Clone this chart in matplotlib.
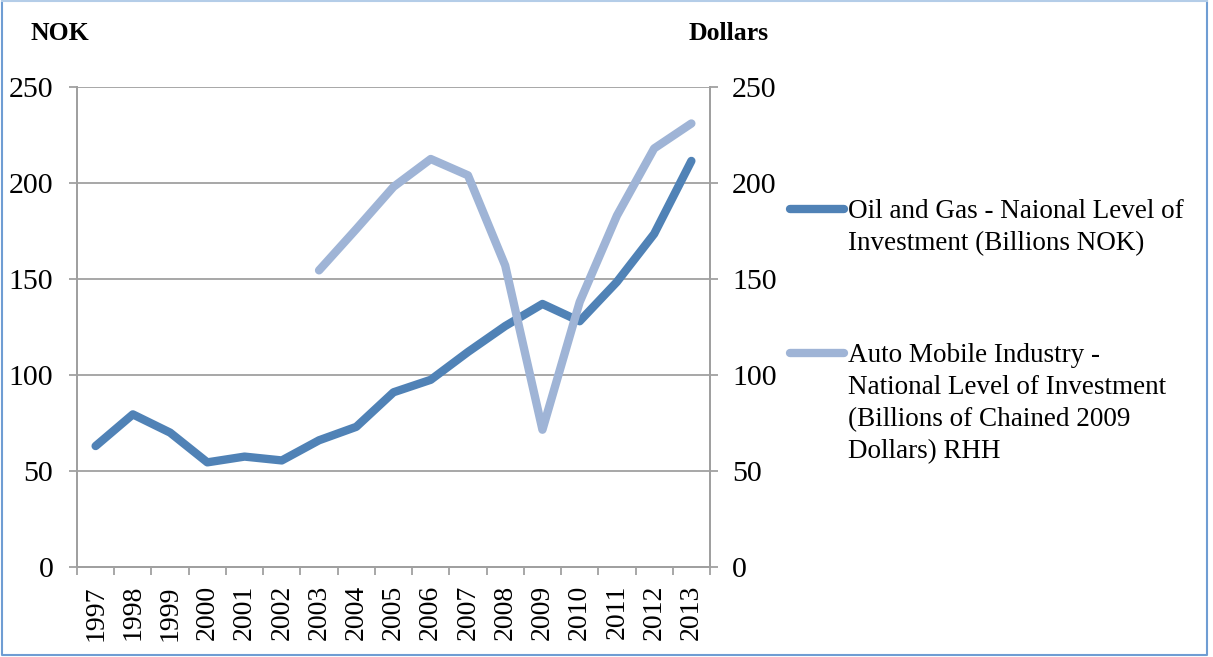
import matplotlib
matplotlib.use('Agg')
import matplotlib.pyplot as plt
from matplotlib.lines import Line2D
import numpy as np

plt.rcParams['font.family'] = ['Liberation Serif', 'DejaVu Serif']

years = [str(y) for y in range(1997, 2014)]

# Oil and gas, billions NOK (left axis)
oil_gas = [63, 79.5, 70, 54.5, 57.5, 55.5, 66, 73, 91, 97.5, 112, 125.5, 137, 128, 148.5, 173.5, 211.5]

# Auto industry, billions of chained 2009 dollars (right axis), from 2003 on
auto_years = years[6:]
auto = [154.5, 176, 198, 212.5, 204, 157, 71.5, 138, 183, 218, 231]

oil_label = 'Oil and Gas - Naional Level of\nInvestment (Billions NOK)'
auto_label = ('Auto Mobile Industry -\nNational Level of Investment\n'
              '(Billions of Chained 2009\nDollars) RHH')

dark = '#5082b6'
light = '#9fb4d6'
grey = '#a0a0a0'

W, H = 1213, 657
fig = plt.figure(figsize=(W / 100, H / 100), dpi=100)
ax = fig.add_axes([77 / W, 1 - 567 / H, 633 / W, 480 / H])
ax2 = ax.twinx()

x = np.arange(len(years))
xa = np.array([years.index(y) for y in auto_years])

l1, = ax.plot(x, oil_gas, color=dark, lw=6, solid_capstyle='round', zorder=3)
l2, = ax2.plot(xa, auto, color=light, lw=6, solid_capstyle='round', zorder=3)

for a in (ax, ax2):
    a.set_ylim(0, 250)
    a.set_yticks(np.arange(0, 251, 50))
    a.set_xlim(-0.5, len(years) - 0.5)
    for s in a.spines.values():
        s.set_color(grey)
        s.set_linewidth(1.3)
    a.spines['top'].set_visible(False)

ax.yaxis.grid(True, color=grey, lw=1.3)
ax.set_axisbelow(True)

# category boundaries carry the ticks, centres carry the labels
ax.set_xticks(np.arange(-0.5, len(years), 1.0))
ax.set_xticklabels([])
ax.set_xticks(x, minor=True)
ax.set_xticklabels(years, minor=True, rotation=90, fontsize=20)
ax.tick_params(axis='x', which='major', length=5.5, width=1.3, color=grey)
ax.tick_params(axis='x', which='minor', length=0, pad=13)
ax.tick_params(axis='y', length=6, width=1.3, color=grey, labelsize=21.5, pad=11)
ax2.tick_params(axis='y', length=6, width=1.3, color=grey, labelsize=21.5, pad=10)

fig.text(60 / W, 1 - 33 / H, 'NOK', fontsize=18.5, fontweight='bold',
         ha='center', va='center')
fig.text(729 / W, 1 - 33 / H, 'Dollars', fontsize=18.5, fontweight='bold',
         ha='center', va='center')

# legend: swatch sits beside the first line of each label
for line, label, ytop in ((l1, oil_label, 199), (l2, auto_label, 343)):
    fig.add_artist(Line2D([790 / W, 844 / W], [1 - (ytop + 10) / H] * 2,
                          color=line.get_color(), lw=6, solid_capstyle='round'))
    fig.text(848 / W, 1 - ytop / H, label, fontsize=19.5, ha='left', va='top',
             linespacing=1.37)

# frame round the chart
fig.add_artist(Line2D([0.002, 0.002, 0.995, 0.995], [0.998, 0.003, 0.003, 0.998],
                      color='#6f9dd3', lw=1.5))
fig.add_artist(Line2D([0.002, 0.995], [0.998, 0.998], color='#b4cde8', lw=1.5))

fig.savefig('out.png', dpi=100)
